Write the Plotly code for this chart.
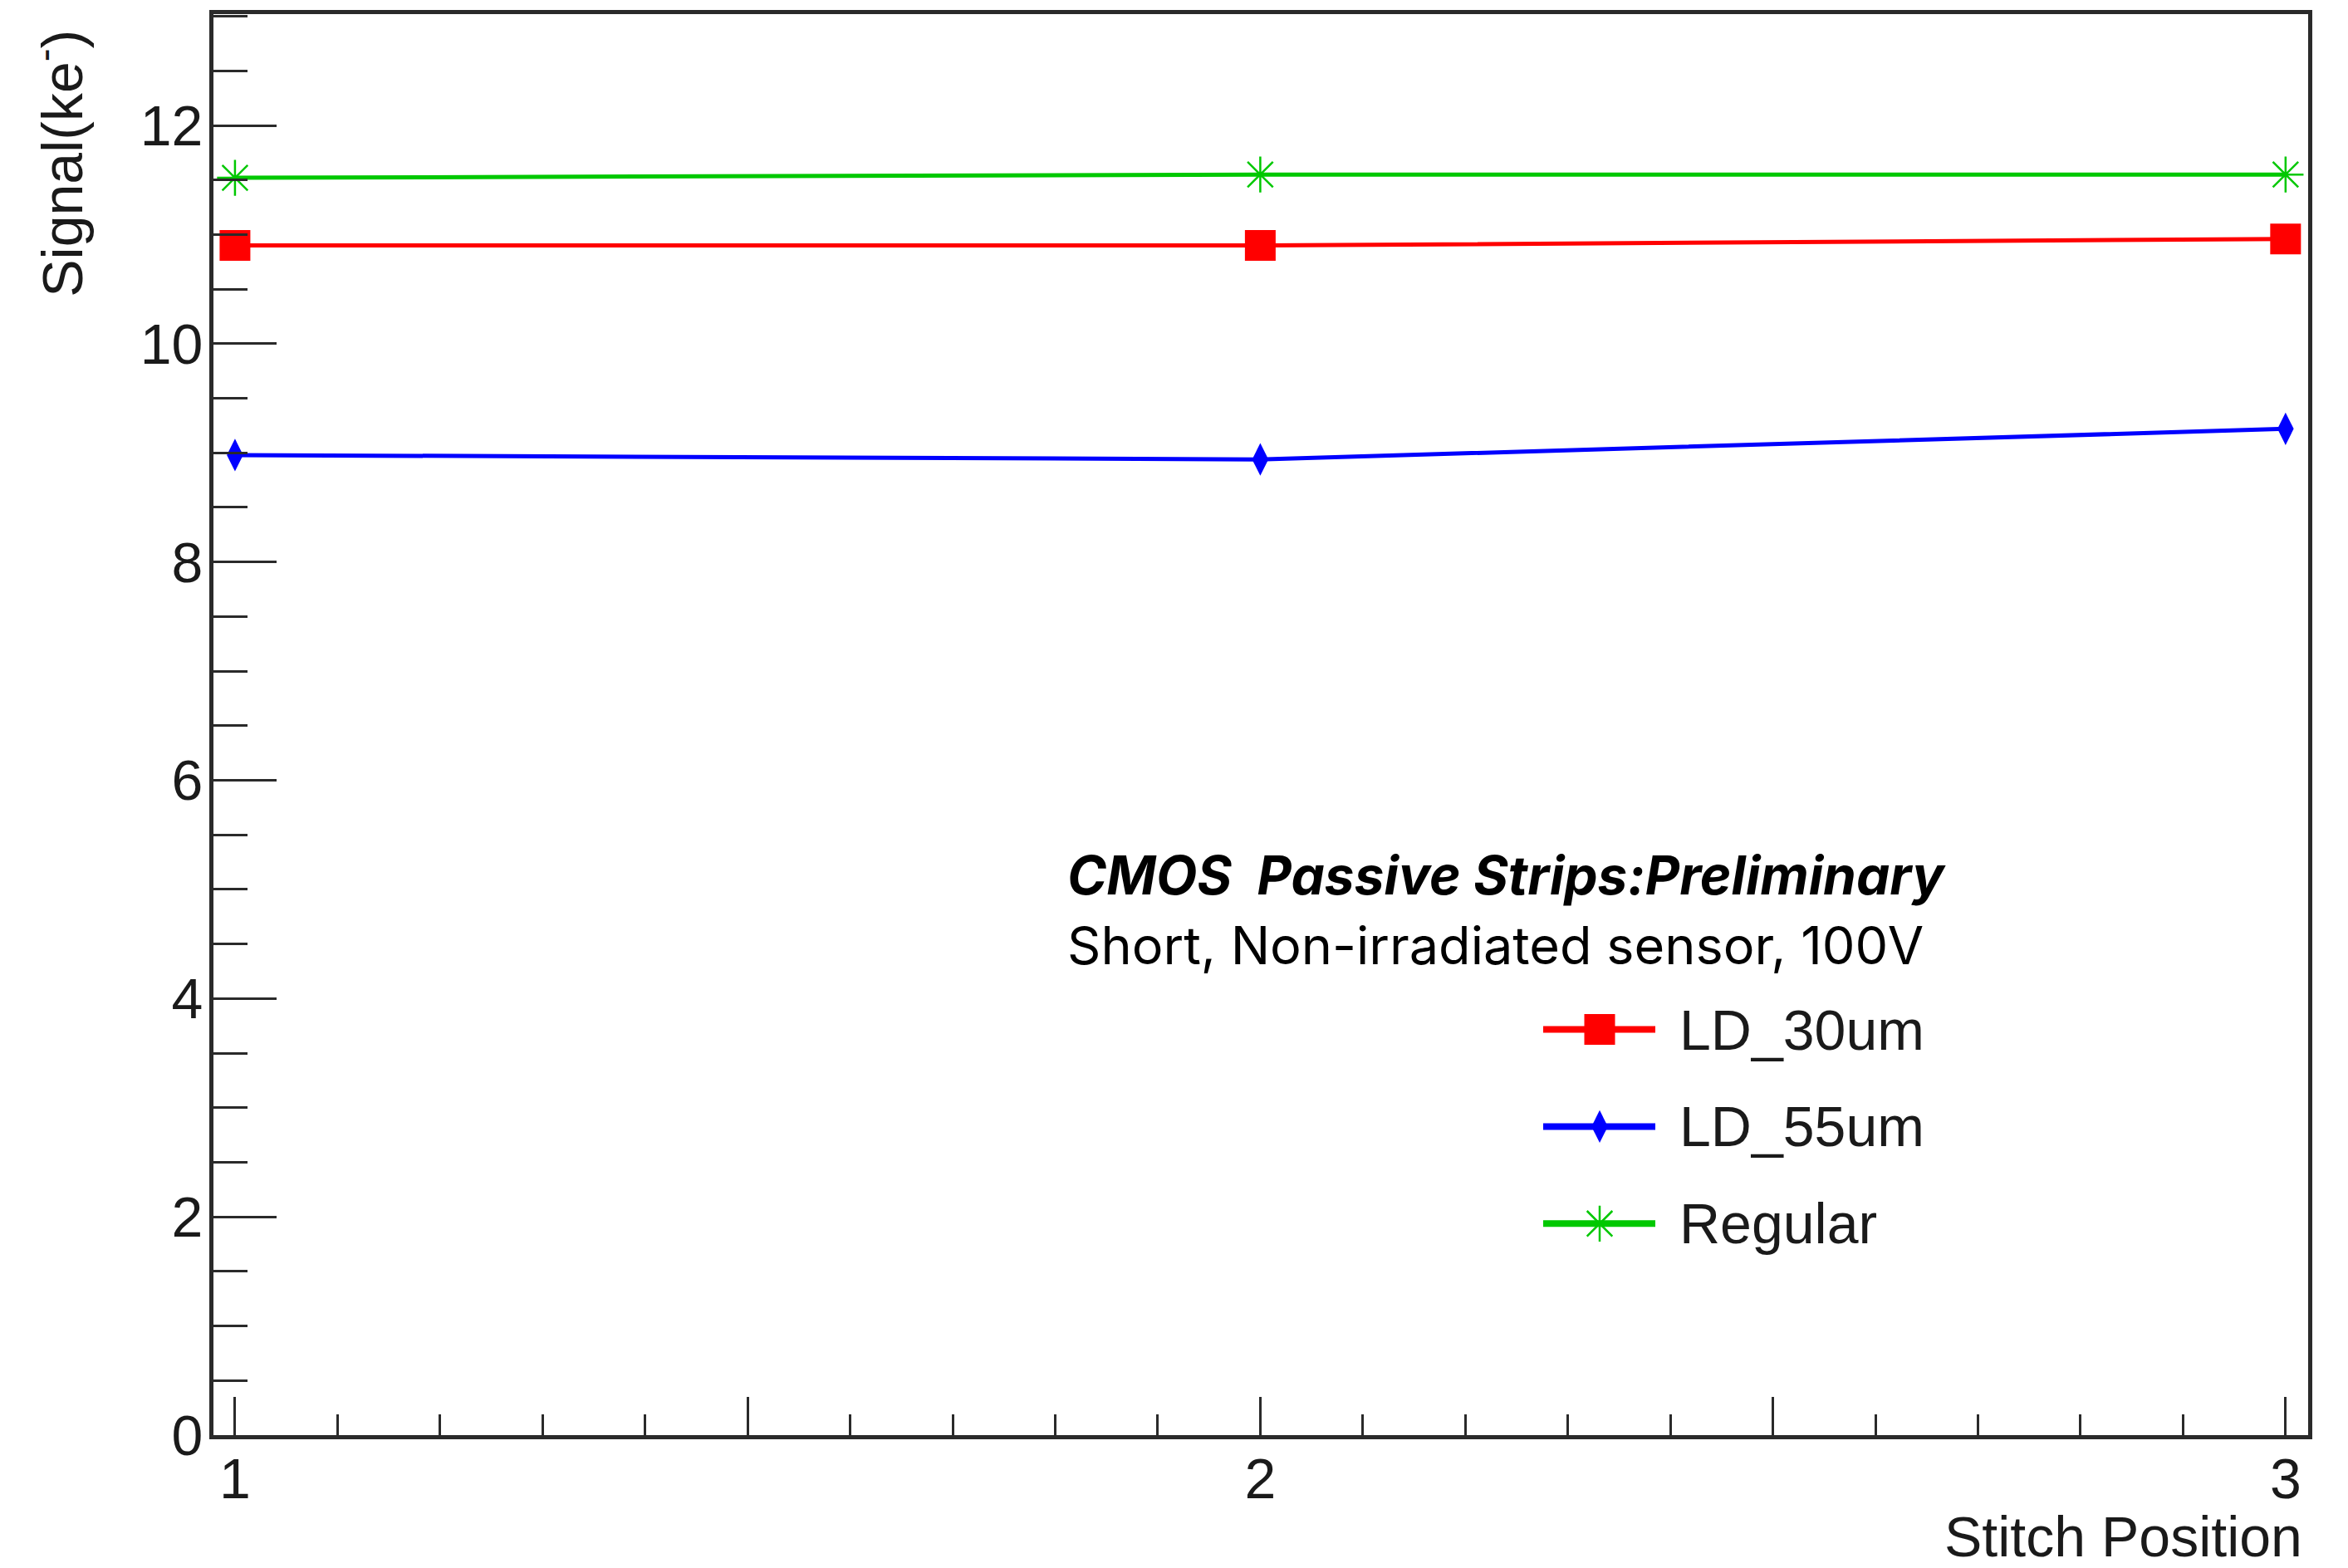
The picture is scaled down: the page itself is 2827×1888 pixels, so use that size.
import plotly.graph_objects as go

# ---- data ----
stitch_position = [1, 2, 3]
ld_30um = [10.90, 10.90, 10.96]
ld_55um = [8.98, 8.94, 9.22]
regular = [11.52, 11.55, 11.55]

series_names = ["LD_30um", "LD_55um", "Regular"]
x_tick_vals = [1, 2, 3]
x_tick_text = ["1", "2", "3"]
x_half_ticks = [1.5, 2.5]
y_tick_vals = [0, 2, 4, 6, 8, 10, 12]
y_tick_text = ["0", "2", "4", "6", "8", "10", "12"]

# ---- canvas geometry ----
W, H = 2827, 1888
L, R, T, B = 257, 2779, 15, 1728   # plot frame in pixels
PW, PH = R - L, B - T
X_RANGE = [0.979, 3.022]
Y_RANGE = [0, 13.02]


def fx(px):
    return (px - L) / PW


def fy(py):
    return (B - py) / PH


RED = "#ff0000"
BLUE = "#0000ff"
GREEN = "#00c800"
AXC = "#2a2a2a"
TXC = "#1a1a1a"
AXFONT = "Liberation Sans, Arial, sans-serif"

styles = [
    dict(color=RED, symbol="square", size=37, lw=5, mline=dict(width=0)),
    dict(color=BLUE, symbol="diamond-tall", size=28, lw=5, mline=dict(width=0)),
    dict(color=GREEN, symbol="asterisk-open", size=36, lw=5,
         mline=dict(width=2.5, color="rgba(60,210,60,0.42)")),
]
values = [ld_30um, ld_55um, regular]

fig = go.Figure()
for name, vals, st in zip(series_names, values, styles):
    fig.add_trace(go.Scatter(
        x=stitch_position, y=vals, name=name, mode="lines+markers",
        line=dict(color=st["color"], width=st["lw"]),
        marker=dict(symbol=st["symbol"], size=st["size"], color=st["color"], line=st["mline"]),
        showlegend=False, hoverinfo="skip",
    ))

# empty trace so the half-unit tick axis is drawn
fig.add_trace(go.Scatter(x=[], y=[], xaxis="x3", yaxis="y", mode="markers",
                         showlegend=False, hoverinfo="skip"))

# ---- hand-drawn legend (like the ROOT TLegend) ----
leg_y = [1239, 1356, 1473]
leg_x0, leg_x1, leg_xm, leg_tx = 1858, 1993, 1926, 2020
shapes = []
annotations = []
for name, st, py in zip(series_names, styles, leg_y):
    shapes.append(dict(type="line", xref="paper", yref="paper",
                       x0=fx(leg_x0), x1=fx(leg_x1), y0=fy(py), y1=fy(py),
                       line=dict(color=st["color"], width=8)))
    fig.add_trace(go.Scatter(
        x=[fx(leg_xm)], y=[fy(py)], xaxis="x2", yaxis="y2", mode="markers",
        marker=dict(symbol=st["symbol"], size=st["size"], color=st["color"], line=st["mline"]),
        showlegend=False, hoverinfo="skip",
    ))
    annotations.append(dict(xref="paper", yref="paper", x=fx(leg_tx), y=fy(py),
                            xanchor="left", yanchor="middle", showarrow=False,
                            text=name, font=dict(family=AXFONT, size=68, color=TXC)))

# ---- texts ----
annotations.append(dict(xref="paper", yref="paper", x=fx(1283), y=fy(1053),
                        xanchor="left", yanchor="middle", showarrow=False,
                        text="<b><i>CMOS  Passive Strips:Preliminary</i></b>",
                        font=dict(family="Inter, Roboto, sans-serif", size=64, color="#000000")))
annotations.append(dict(xref="paper", yref="paper", x=fx(1283), y=fy(1137),
                        xanchor="left", yanchor="middle", showarrow=False,
                        text="Short, Non-irradiated sensor, 100V",
                        font=dict(family="Inter, Roboto, sans-serif", size=63, color="#000000")))
annotations.append(dict(xref="paper", yref="paper", x=fx(2774), y=fy(1850),
                        xanchor="right", yanchor="middle", showarrow=False,
                        text="Stitch Position",
                        font=dict(family=AXFONT, size=68, color=TXC)))
annotations.append(dict(xref="paper", yref="paper", x=fx(70), y=fy(195),
                        xanchor="center", yanchor="middle", showarrow=False, textangle=-90,
                        text="Signal(ke<sup>-</sup>)",
                        font=dict(family=AXFONT, size=68, color=TXC)))

fig.update_layout(
    width=W, height=H,
    margin=dict(l=L, r=W - R, t=T, b=H - B, pad=0),
    paper_bgcolor="white", plot_bgcolor="white",
    showlegend=False,
    shapes=shapes, annotations=annotations,
    xaxis=dict(range=X_RANGE, tickmode="array", tickvals=x_tick_vals, ticktext=x_tick_text,
               ticks="inside", ticklen=46, tickwidth=3, tickcolor=AXC,
               minor=dict(dtick=0.1, tick0=1, ticks="inside", ticklen=25, tickwidth=3, tickcolor=AXC),
               showgrid=False, zeroline=False, showline=True, linecolor=AXC, linewidth=5, mirror=True,
               tickfont=dict(family=AXFONT, size=68, color=TXC), ticklabelstandoff=-11),
    xaxis3=dict(range=X_RANGE, overlaying="x", anchor="y", side="bottom",
                tickmode="array", tickvals=x_half_ticks, showticklabels=False,
                ticks="inside", ticklen=46, tickwidth=3, tickcolor=AXC,
                showgrid=False, zeroline=False, showline=False, fixedrange=True),
    yaxis=dict(range=Y_RANGE, tickmode="array", tickvals=y_tick_vals, ticktext=y_tick_text,
               ticks="inside", ticklen=76, tickwidth=3, tickcolor=AXC,
               minor=dict(dtick=0.5, tick0=0, ticks="inside", ticklen=41, tickwidth=3, tickcolor=AXC),
               showgrid=False, zeroline=False, showline=True, linecolor=AXC, linewidth=5, mirror=True,
               tickfont=dict(family=AXFONT, size=68, color=TXC), ticklabelstandoff=-6),
    xaxis2=dict(domain=[0, 1], range=[0, 1], overlaying="x", visible=False, fixedrange=True),
    yaxis2=dict(domain=[0, 1], range=[0, 1], overlaying="y", visible=False, fixedrange=True),
)

fig.write_html("out.html")
